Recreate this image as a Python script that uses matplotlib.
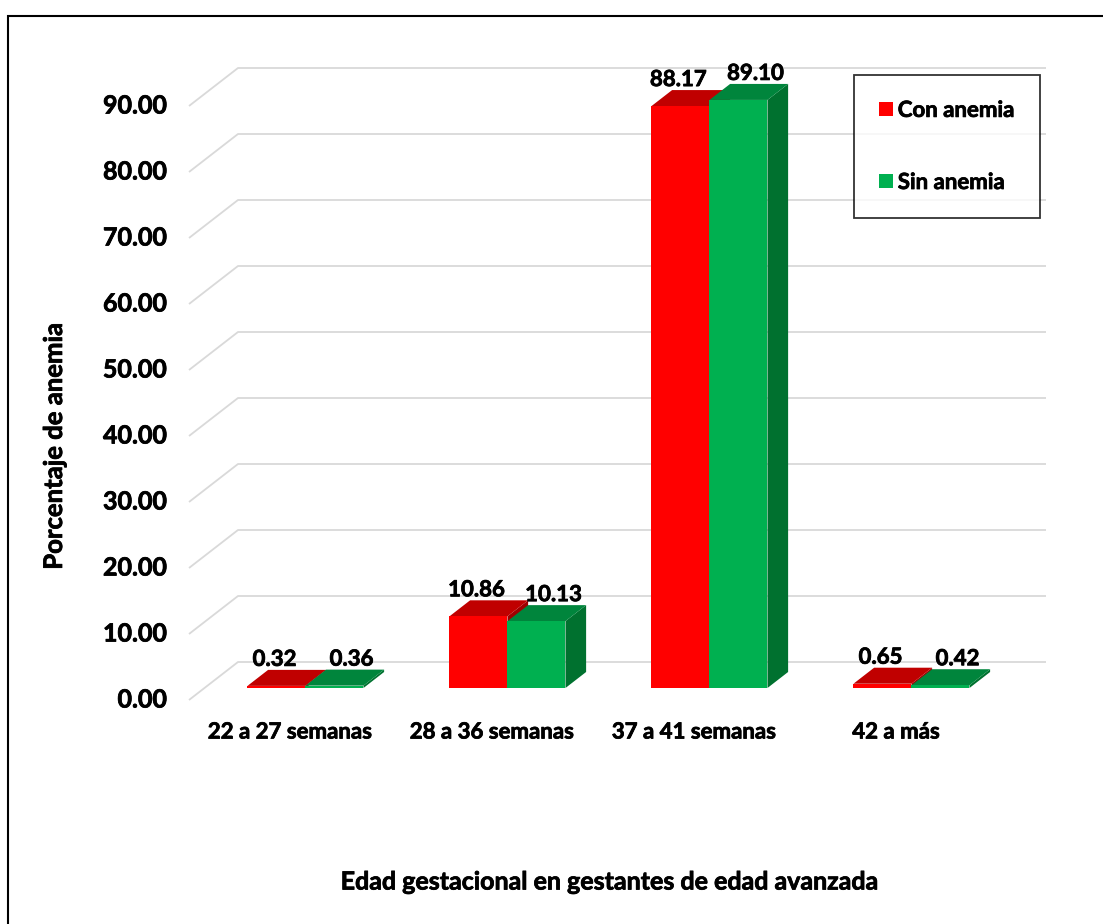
import matplotlib
matplotlib.use("Agg")
import matplotlib.pyplot as plt
import matplotlib.patheffects as pe
from matplotlib.patches import Polygon, Rectangle, Patch

plt.rcParams['font.family'] = ['Lato', 'DejaVu Sans']
plt.rcParams['font.weight'] = 'bold'

categories = ["22 a 27 semanas", "28 a 36 semanas", "37 a 41 semanas", "42 a más"]
series_names = ["Con anemia", "Sin anemia"]
con_anemia = [0.32, 10.86, 88.17, 0.65]
sin_anemia = [0.36, 10.13, 89.10, 0.42]
y_ticks = [0, 10, 20, 30, 40, 50, 60, 70, 80, 90]
x_title = "Edad gestacional en gestantes de edad avanzada"
y_title = "Porcentaje de anemia"

W, H = 1103, 924
fig = plt.figure(figsize=(W / 100, H / 100), dpi=100)

# plot area (pixels)
PX_L, PX_R, PX_B, PX_T = 189, 1048, 700, 60
CAT_PX = 202.0
VAL_PX = 6.6
ax = fig.add_axes([PX_L / W, (H - PX_B) / H, (PX_R - PX_L) / W, (PX_B - PX_T) / H])
ax.set_xlim(0, (PX_R - PX_L) / CAT_PX)
ax.set_ylim(0, (PX_B - PX_T) / VAL_PX)
ax.axis('off')

DX = 49 / CAT_PX
DY = 38 / VAL_PX
F0, F1 = 0.316, 0.737
BW = 58 / CAT_PX
n = len(categories)

thick = [pe.withStroke(linewidth=0.55, foreground='black')]

grid_c = '#d9d9d9'
for v in y_ticks:
    ax.plot([0, DX, n + DX], [v, v + DY, v + DY], color=grid_c, lw=1.3,
            solid_capstyle='butt', zorder=1, clip_on=False)
    ax.text(-22 / CAT_PX, v, f"{v:.2f}", ha='right', va='center',
            fontsize=18, fontweight='bold', color='black', clip_on=False,
            path_effects=thick)

colors = {
    "Con anemia": ('#FF0000', '#C00000', '#A00000'),
    "Sin anemia": ('#00B050', '#00853C', '#00712F'),
}
label_shift = {"Con anemia": -2 / CAT_PX, "Sin anemia": 17 / CAT_PX}

def draw_bar(x0, v, cols, shift):
    front, top, side = cols
    fx = x0 + F0 * DX
    fy = F0 * DY
    bx = x0 + F1 * DX
    by = F1 * DY
    # side
    ax.add_patch(Polygon([(fx + BW, fy), (bx + BW, by), (bx + BW, by + v), (fx + BW, fy + v)],
                         closed=True, fc=side, ec='none', zorder=3))
    # top
    ax.add_patch(Polygon([(fx, fy + v), (fx + BW, fy + v), (bx + BW, by + v), (bx, by + v)],
                         closed=True, fc=top, ec='none', zorder=3))
    # front
    ax.add_patch(Rectangle((fx, fy), BW, v, fc=front, ec='none', zorder=3))
    ax.text(fx + BW / 2 + shift, by + v, f"{v:.2f}", ha='center', va='bottom',
            fontsize=16, fontweight='bold', color='black', zorder=5, clip_on=False,
            path_effects=thick)

for i in range(n):
    c = i + 0.5
    draw_bar(c - BW, con_anemia[i], colors["Con anemia"], label_shift["Con anemia"])
    draw_bar(c, sin_anemia[i], colors["Sin anemia"], label_shift["Sin anemia"])
    ax.text(c, -32 / VAL_PX, categories[i], ha='center', va='center',
            fontsize=16, fontweight='bold', color='black', clip_on=False,
            path_effects=thick)

# axis titles
fig.text(54 / W, 1 - 446 / H, y_title, rotation=90, ha='center', va='center',
         fontsize=18.5, fontweight='bold', path_effects=thick)
fig.text(610 / W, 1 - 882 / H, x_title, ha='center', va='center',
         fontsize=18, fontweight='bold', path_effects=thick)

# legend
handles = [Patch(fc=colors[s][0], ec='none') for s in series_names]
leg = fig.legend(handles, series_names, loc='upper left',
                 bbox_to_anchor=(854 / W, 1 - 75 / H), frameon=True, fancybox=False,
                 prop={'size': 16, 'weight': 'bold'}, borderpad=1.12, labelspacing=2.3,
                 handlelength=0.63, handleheight=0.63, handletextpad=0.22,
                 borderaxespad=0)
leg.get_frame().set_edgecolor('black')
leg.get_frame().set_linewidth(1.3)
for t in leg.get_texts():
    t.set_path_effects(thick)

# outer border
fig.patches.append(Rectangle((8 / W, -0.05), 1.2, 1 - 16 / H + 0.05, transform=fig.transFigure,
                             fill=False, ec='black', lw=1.5, zorder=10))

fig.savefig("out.png", dpi=100)
